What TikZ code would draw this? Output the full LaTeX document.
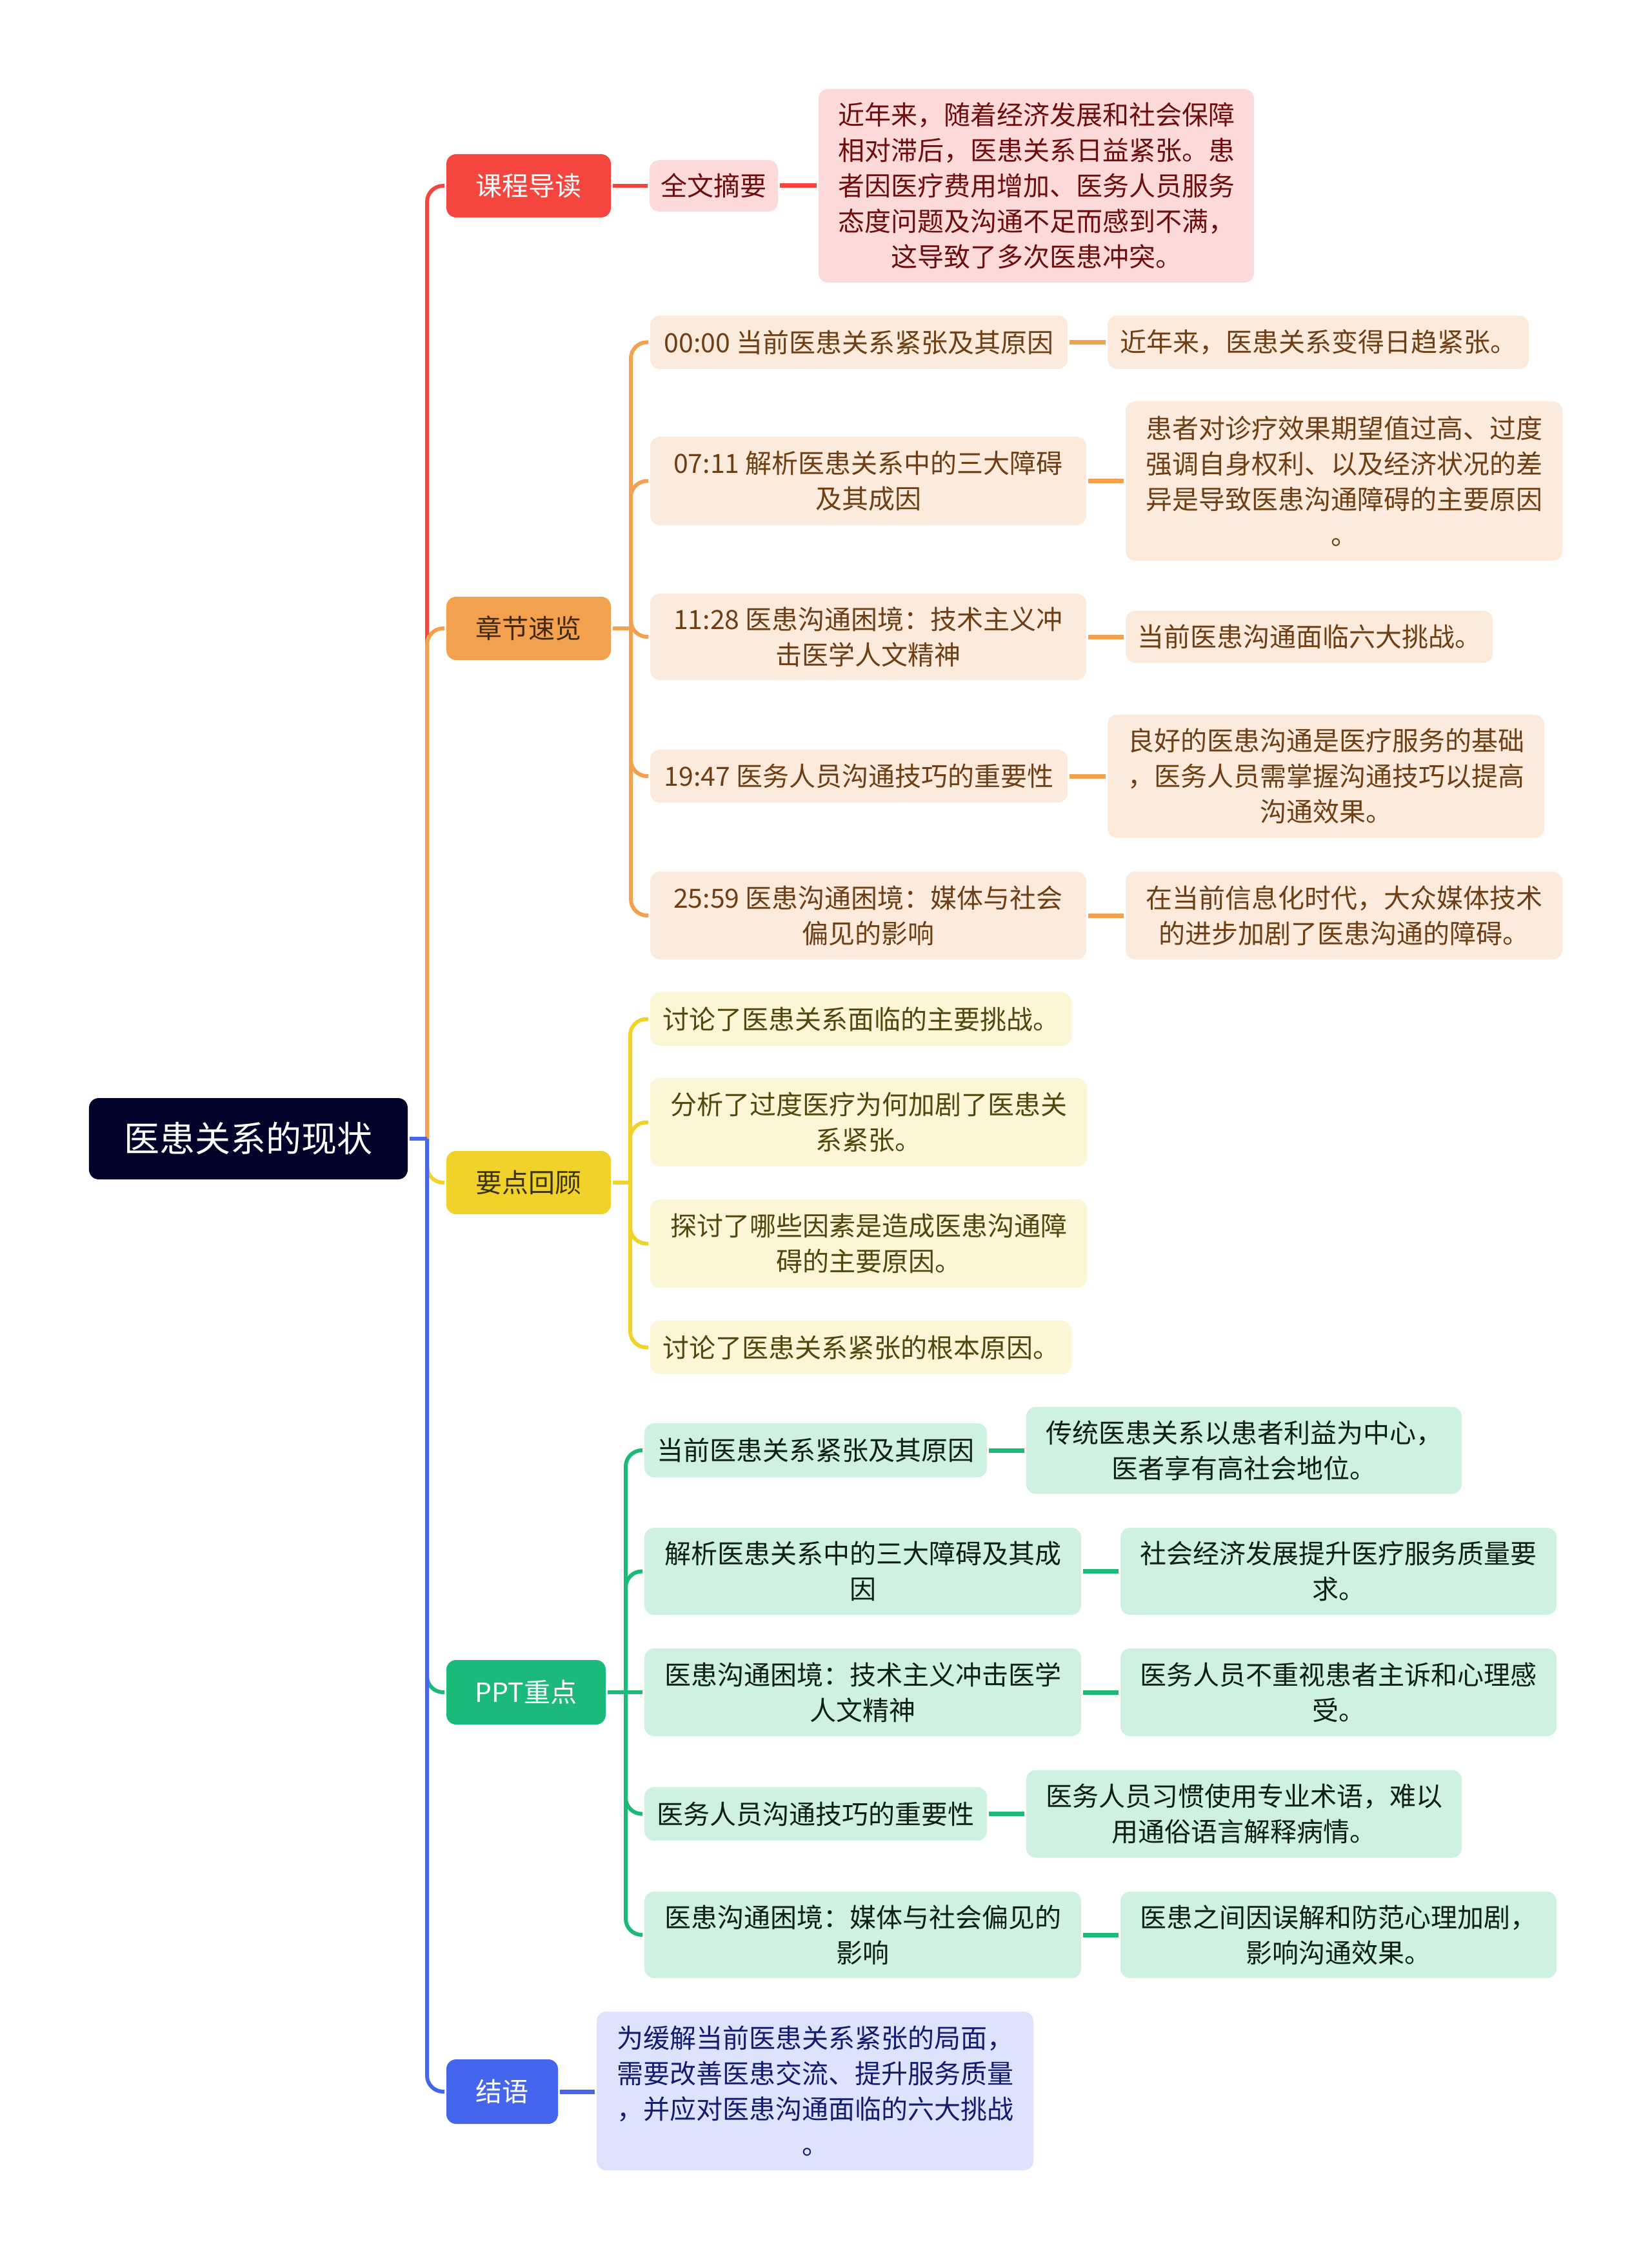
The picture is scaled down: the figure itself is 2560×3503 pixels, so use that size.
\documentclass[tikz,border=0pt]{standalone}
\usepackage{fontspec}
\setmainfont{Noto Sans CJK SC}
\usetikzlibrary{backgrounds}

\definecolor{rootInk}{HTML}{02032A}
\definecolor{kcRed}{HTML}{F4463F}
\definecolor{kcPale}{HTML}{FDDADA}
\definecolor{kcInk}{HTML}{6D0D0D}
\definecolor{zjOrange}{HTML}{F3A04F}
\definecolor{zjPale}{HTML}{FCEBDC}
\definecolor{zjInk}{HTML}{6E3F14}
\definecolor{zjDark}{HTML}{3E2A12}
\definecolor{ydYellow}{HTML}{F1D22B}
\definecolor{ydPale}{HTML}{FBF6D6}
\definecolor{ydInk}{HTML}{51470E}
\definecolor{ydDark}{HTML}{3B3310}
\definecolor{pptGreen}{HTML}{1BB97A}
\definecolor{pptPale}{HTML}{CEF1E2}
\definecolor{pptInk}{HTML}{0D1F17}
\definecolor{jyBlue}{HTML}{4566EC}
\definecolor{jyPale}{HTML}{DDE3FC}
\definecolor{jyInk}{HTML}{141C6E}

\tikzset{every picture/.style={line width=1.2pt}}
\tikzset{
  topic/.style={rounded corners=3pt, inner sep=0pt, align=center, font=\fontsize{8.2pt}{11pt}\selectfont},
  rootbox/.style={topic, fill=rootInk, text=white, font=\fontsize{11pt}{14pt}\selectfont},
  kcbox/.style={topic, fill=kcRed, text=white},
  kcsub/.style={topic, fill=kcPale, text=kcInk},
  zjbox/.style={topic, fill=zjOrange, text=zjDark},
  zjsub/.style={topic, fill=zjPale, text=zjInk},
  ydbox/.style={topic, fill=ydYellow, text=ydDark},
  ydsub/.style={topic, fill=ydPale, text=ydInk},
  pptbox/.style={topic, fill=pptGreen, text=white},
  pptsub/.style={topic, fill=pptPale, text=pptInk},
  jybox/.style={topic, fill=jyBlue, text=white},
  jysub/.style={topic, fill=jyPale, text=jyInk},
  link/.style={line width=1.2pt, rounded corners=5pt},
  leaflink/.style={line width=1.4pt}
}

\begin{document}
\begin{tikzpicture}[x=0.2pt,y=0.2pt,yscale=-1,xscale=1]
\path[use as bounding box] (0,0) rectangle (2560,3503);

% Root
\node [rootbox, minimum width=98.8pt, minimum height=25.2pt] (root) at (385,1765) {医患关系的现状};

% Level 1
\node [kcbox, minimum width=51pt, minimum height=19.6pt] (kc) at (819.5,288) {课程导读};
\node [zjbox, minimum width=51pt, minimum height=19.6pt] (zj) at (819.5,974) {章节速览};
\node [ydbox, minimum width=51pt, minimum height=19.6pt] (yd) at (819.5,1833) {要点回顾};
\node [pptbox, minimum width=49.4pt, minimum height=20pt] (ppt) at (815.5,2623) {PPT重点};
\node [jybox, minimum width=34.6pt, minimum height=20pt] (jy) at (778.5,3242) {结语};

% 课程导读
\node [kcsub, minimum width=39.8pt, minimum height=16pt] (qw) at (1106.5,288) {全文摘要};
\node [kcsub, minimum width=135pt, minimum height=60pt] (qwT) at (1606.5,288) {近年来，随着经济发展和社会保障\\相对滞后，医患关系日益紧张。患\\者因医疗费用增加、医务人员服务\\态度问题及沟通不足而感到不满，\\这导致了多次医患冲突。};

% 章节速览
\node [zjsub, minimum width=129.4pt, minimum height=16.6pt] (c1) at (1331.5,530.5) {00:00 当前医患关系紧张及其原因};
\node [zjsub, minimum width=130.6pt, minimum height=16.6pt] (c1T) at (2043.5,530.5) {近年来，医患关系变得日趋紧张。};
\node [zjsub, minimum width=135.2pt, minimum height=27.4pt] (c2) at (1346,745.5) {07:11 解析医患关系中的三大障碍\\及其成因};
\node [zjsub, minimum width=135.4pt, minimum height=49.4pt] (c2T) at (2083.5,745.5) {患者对诊疗效果期望值过高、过度\\强调自身权利、以及经济状况的差\\异是导致医患沟通障碍的主要原因\\。};
\node [zjsub, minimum width=135.2pt, minimum height=26.8pt] (c3) at (1346,987) {11:28 医患沟通困境：技术主义冲\\击医学人文精神};
\node [zjsub, minimum width=113.8pt, minimum height=16.2pt] (c3T) at (2029.5,987) {当前医患沟通面临六大挑战。};
\node [zjsub, minimum width=129.4pt, minimum height=16.4pt] (c4) at (1331.5,1203) {19:47 医务人员沟通技巧的重要性};
\node [zjsub, minimum width=135.4pt, minimum height=38.2pt] (c4T) at (2055.5,1203) {良好的医患沟通是医疗服务的基础\\，医务人员需掌握沟通技巧以提高\\沟通效果。};
\node [zjsub, minimum width=135.2pt, minimum height=27.2pt] (c5) at (1346,1419) {25:59 医患沟通困境：媒体与社会\\偏见的影响};
\node [zjsub, minimum width=135.4pt, minimum height=27.2pt] (c5T) at (2083.5,1419) {在当前信息化时代，大众媒体技术\\的进步加剧了医患沟通的障碍。};

% 要点回顾
\node [ydsub, minimum width=130.6pt, minimum height=16.6pt] (y1) at (1334.5,1579.5) {讨论了医患关系面临的主要挑战。};
\node [ydsub, minimum width=135.4pt, minimum height=27.4pt] (y2) at (1346.5,1739.5) {分析了过度医疗为何加剧了医患关\\系紧张。};
\node [ydsub, minimum width=135.4pt, minimum height=27.4pt] (y3) at (1346.5,1927.5) {探讨了哪些因素是造成医患沟通障\\碍的主要原因。};
\node [ydsub, minimum width=130.6pt, minimum height=16.6pt] (y4) at (1334.5,2088.5) {讨论了医患关系紧张的根本原因。};

% PPT重点
\node [pptsub, minimum width=106.2pt, minimum height=16.8pt] (p1) at (1264.5,2248) {当前医患关系紧张及其原因};
\node [pptsub, minimum width=135pt, minimum height=27pt] (p1T) at (1928.5,2248) {传统医患关系以患者利益为中心，\\医者享有高社会地位。};
\node [pptsub, minimum width=135.4pt, minimum height=27pt] (p2) at (1337.5,2435.5) {解析医患关系中的三大障碍及其成\\因};
\node [pptsub, minimum width=135.2pt, minimum height=27pt] (p2T) at (2075,2435.5) {社会经济发展提升医疗服务质量要\\求。};
\node [pptsub, minimum width=135.4pt, minimum height=27.2pt] (p3) at (1337.5,2623) {医患沟通困境：技术主义冲击医学\\人文精神};
\node [pptsub, minimum width=135.2pt, minimum height=27.2pt] (p3T) at (2075,2623) {医务人员不重视患者主诉和心理感\\受。};
\node [pptsub, minimum width=106.2pt, minimum height=16.6pt] (p4) at (1264.5,2811.5) {医务人员沟通技巧的重要性};
\node [pptsub, minimum width=135pt, minimum height=27.2pt] (p4T) at (1928.5,2811.5) {医务人员习惯使用专业术语，难以\\用通俗语言解释病情。};
\node [pptsub, minimum width=135.4pt, minimum height=26.8pt] (p5) at (1337.5,2999) {医患沟通困境：媒体与社会偏见的\\影响};
\node [pptsub, minimum width=135.2pt, minimum height=26.8pt] (p5T) at (2075,2999) {医患之间因误解和防范心理加剧，\\影响沟通效果。};

% 结语
\node [jysub, minimum width=135.4pt, minimum height=49.2pt] (jyT) at (1263.5,3241) {为缓解当前医患关系紧张的局面，\\需要改善医患交流、提升服务质量\\，并应对医患沟通面临的六大挑战\\。};

% Junctions
\coordinate (mJ) at (662,1765);
\coordinate (zjJ) at (978,974);
\coordinate (ydJ) at (977,1833);
\coordinate (pptJ) at (970,2623);

\begin{scope}[on background layer]
%Main branches
\draw [link, kcRed] (mJ) |- (kc.west);
\draw [link, zjOrange] (mJ) |- (zj.west);
\draw [link, ydYellow] (mJ) |- (yd.west);
\draw [link, pptGreen] (mJ) |- (ppt.west);
\draw [link, jyBlue] (mJ) |- (jy.west);
\draw [link, jyBlue] (root.east) -- (mJ);

%课程导读
\draw [link, kcRed] (kc.east) -- (qw.west);
\draw [leaflink, kcRed] (qw.east) -- (qw.east -| qwT.west);

%章节速览
\draw [link, zjOrange] (zj.east) -- (zjJ);
\foreach \c in {c1,c2,c3,c4,c5}
  \draw [link, zjOrange] (zjJ) |- (\c.west);
\foreach \c in {c1,c2,c3,c4,c5}
  \draw [leaflink, zjOrange] (\c.east) -- (\c.east -| \c T.west);

%要点回顾
\draw [link, ydYellow] (yd.east) -- (ydJ);
\foreach \c in {y1,y2,y3,y4}
  \draw [link, ydYellow] (ydJ) |- (\c.west);

%PPT重点
\draw [link, pptGreen] (ppt.east) -- (pptJ);
\foreach \c in {p1,p2,p4,p5}
  \draw [link, pptGreen] (pptJ) |- (\c.west);
\draw [link, pptGreen] (pptJ) -- (p3.west);
\foreach \c in {p1,p2,p3,p4,p5}
  \draw [leaflink, pptGreen] (\c.east) -- (\c.east -| \c T.west);

%结语
\draw [leaflink, jyBlue] (jy.east) -- (jy.east -| jyT.west);
\end{scope}

\end{tikzpicture}
\end{document}
